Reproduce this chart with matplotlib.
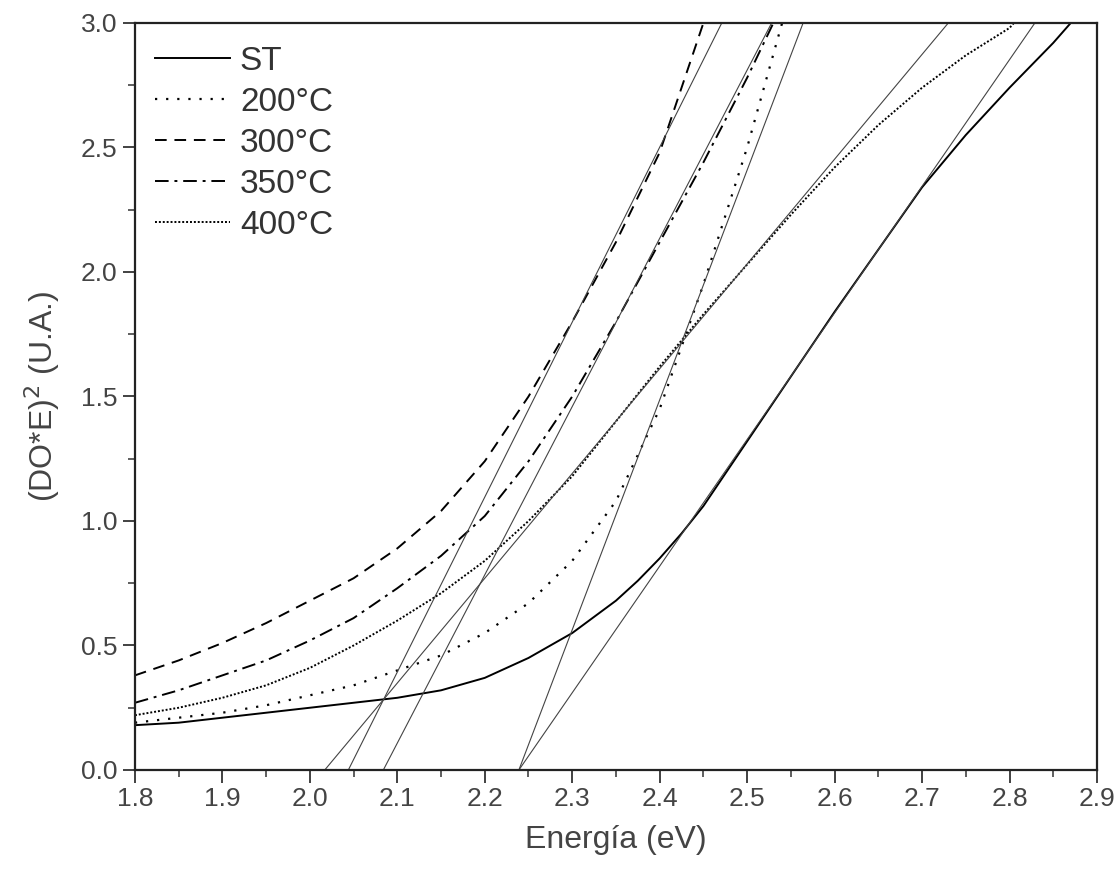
import matplotlib

matplotlib.use("Agg")

import numpy as np
import matplotlib.pyplot as plt
from matplotlib.ticker import MultipleLocator

plt.rcParams["font.family"] = ["Liberation Sans", "DejaVu Sans"]

# Дані
energia = [1.80, 1.85, 1.90, 1.95, 2.00, 2.05, 2.10, 2.15, 2.20, 2.25, 2.30,
           2.35, 2.375, 2.40, 2.425, 2.45, 2.50, 2.55, 2.60, 2.65, 2.70,
           2.75, 2.80, 2.85, 2.87]

st = [0.18, 0.19, 0.21, 0.23, 0.25, 0.27, 0.29, 0.32, 0.37, 0.45, 0.55,
      0.68, 0.76, 0.85, 0.95, 1.06, 1.32, 1.58, 1.84, 2.09, 2.34,
      2.55, 2.74, 2.92, 3.00]

e200 = [1.80, 1.85, 1.90, 1.95, 2.00, 2.05, 2.10, 2.15, 2.20, 2.25, 2.30,
        2.35, 2.40, 2.45, 2.50, 2.54]
s200 = [0.19, 0.21, 0.23, 0.26, 0.30, 0.34, 0.40, 0.46, 0.55, 0.67, 0.84,
        1.08, 1.45, 1.95, 2.50, 3.00]

e300 = [1.80, 1.85, 1.90, 1.95, 2.00, 2.05, 2.10, 2.15, 2.20, 2.25, 2.30,
        2.35, 2.40, 2.45]
s300 = [0.38, 0.44, 0.51, 0.59, 0.68, 0.77, 0.89, 1.04, 1.24, 1.50, 1.80,
        2.12, 2.48, 3.00]

e350 = [1.80, 1.85, 1.90, 1.95, 2.00, 2.05, 2.10, 2.15, 2.20, 2.25, 2.30,
        2.35, 2.40, 2.45, 2.50, 2.53]
s350 = [0.27, 0.32, 0.38, 0.44, 0.52, 0.61, 0.73, 0.86, 1.02, 1.24, 1.50,
        1.80, 2.12, 2.44, 2.78, 3.00]

e400 = [1.80, 1.85, 1.90, 1.95, 2.00, 2.05, 2.10, 2.15, 2.20, 2.25, 2.30,
        2.35, 2.40, 2.45, 2.50, 2.55, 2.60, 2.65, 2.70, 2.75, 2.80, 2.805]
s400 = [0.22, 0.25, 0.29, 0.34, 0.41, 0.50, 0.60, 0.71, 0.84, 1.00, 1.18,
        1.40, 1.62, 1.83, 2.03, 2.23, 2.42, 2.59, 2.74, 2.87, 2.98, 3.00]

# Дотичні: перетин з віссю x та точка, де лінія доходить до y = 3
tang_x0 = [2.239, 2.239, 2.044, 2.084, 2.017]
tang_x1 = [2.829, 2.564, 2.471, 2.528, 2.730]

fig = plt.figure(figsize=(11.19, 8.74), dpi=100)
ax = fig.add_axes([0.1206, 0.119, 0.8597, 0.8547])

ax.plot(energia, st, color="black", lw=1.4, label="ST")
ax.plot(e200, s200, color="black", lw=1.6, linestyle=(0, (1, 4)), label="200°C")
ax.plot(e300, s300, color="black", lw=1.4, linestyle=(0, (6, 4)), label="300°C")
ax.plot(e350, s350, color="black", lw=1.4, linestyle=(0, (7, 3, 1.5, 3)), label="350°C")
ax.plot(e400, s400, color="black", lw=1.4, linestyle=(0, (1, 1)), label="400°C")

# Лінії дотичних
for x0, x1 in zip(tang_x0, tang_x1):
    ax.plot([x0, x1], [0, 3.0], color="#444444", lw=0.8)

ax.set_xlim(1.8, 2.9)
ax.set_ylim(0, 3.0)
ax.xaxis.set_major_locator(MultipleLocator(0.1))
ax.xaxis.set_minor_locator(MultipleLocator(0.05))
ax.yaxis.set_major_locator(MultipleLocator(0.5))
ax.yaxis.set_minor_locator(MultipleLocator(0.25))
ax.xaxis.set_major_formatter(plt.FuncFormatter(lambda v, p: f"{v:.1f}"))
ax.yaxis.set_major_formatter(plt.FuncFormatter(lambda v, p: f"{v:.1f}"))
ax.tick_params(which="major", direction="out", length=9, width=1.3, labelsize=19,
               colors="#333333", labelcolor="#444444")
ax.tick_params(which="minor", direction="out", length=5, width=1.1, colors="#333333")
for s in ax.spines.values():
    s.set_linewidth(1.6)
    s.set_color("#222222")

ax.set_xlabel("Energía (eV)", fontsize=23, color="#444444", labelpad=10)
ax.set_ylabel("(DO*E)$^2$ (U.A.)", fontsize=23, color="#444444", labelpad=14)

ax.legend(loc="upper left", frameon=False, fontsize=24, handlelength=2.25,
          labelspacing=0.3, handletextpad=0.3, borderaxespad=0.2,
          labelcolor="#333333", bbox_to_anchor=(0.0, 0.996))

fig.savefig("out.png", dpi=100)
